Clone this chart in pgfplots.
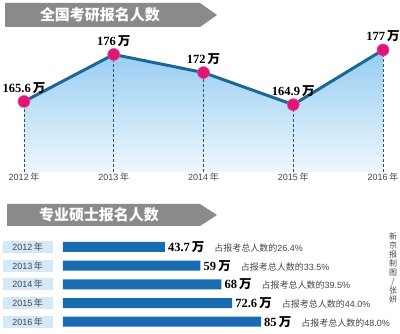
\documentclass[border=0pt]{standalone}
\usepackage{pgfplots}
\pgfplotsset{compat=1.18}
\usepackage{fontspec}
\setmainfont{Liberation Serif}
\newfontfamily\cjk{Noto Sans CJK SC}
\newfontfamily\lsans{Liberation Sans}
\definecolor{banner}{RGB}{138,138,138}
\definecolor{lineblue}{RGB}{29,102,150}
\definecolor{mk}{RGB}{225,20,120}
\definecolor{areatop}{RGB}{150,204,242}
\definecolor{areabot}{RGB}{238,247,253}
\definecolor{barblue}{RGB}{25,108,178}
\definecolor{boxblue}{RGB}{212,232,248}
\definecolor{dashc}{RGB}{40,80,120}
\definecolor{txtgray}{RGB}{70,70,70}
\newcommand\toplab[1]{{\fontsize{12.5}{12.5}\selectfont\bfseries #1\,{\cjk\bfseries 万}}}
\newcommand\yr[1]{{\lsans #1\,{\cjk 年}}}
\newcommand\bv[1]{{\fontsize{12.5}{12.5}\selectfont\bfseries #1\,{\cjk\bfseries 万}}}
\newcommand\pc[1]{{\fontsize{9}{9}\selectfont\color{txtgray}{\cjk 占报考总人数的}{\lsans #1\%}}}
\begin{document}
\begin{tikzpicture}[x=1pt,y=1pt]
\useasboundingbox (0,0) rectangle (400,-334);
% banners
\fill[banner] (5,-3) -- (200,-3) -- (217,-15) -- (200,-27) -- (5,-27) -- cycle;
\node[white, font=\cjk\bfseries\fontsize{15}{15}\selectfont] at (100,-15) {全国考研报名人数};
\fill[banner] (7,-204) -- (200,-204) -- (217,-215) -- (200,-226) -- (7,-226) -- cycle;
\node[white, font=\cjk\bfseries\fontsize{15}{15}\selectfont] at (99,-215) {专业硕士报名人数};
% credit
\node[text=txtgray, font=\cjk\fontsize{8}{9}\selectfont, align=center, inner sep=0pt] at (393,-268) {新\\京\\报\\制\\图\\/\\张\\妍};

\begin{axis}[at={(24pt,-172pt)}, anchor=south west, scale only axis,
  width=359pt, height=158.2pt, xmin=2012, xmax=2016, ymin=150, ymax=185,
  clip=false, axis line style={draw=none}, tick style={draw=none},
  ytick=\empty, xtick={2012,2013,2014,2015,2016},
  xticklabels={\yr{2012},\yr{2013},\yr{2014},\yr{2015},\yr{2016}},
  xticklabel style={font=\fontsize{9}{9}\selectfont, text=txtgray, inner sep=0pt, anchor=north, yshift=-1pt}]
\addplot[draw=none, top color=areatop, bottom color=areabot, forget plot]
  coordinates {(2012,150)(2012,165.6)(2013,176)(2014,172)(2015,164.9)(2016,177)(2016,150)};
\addplot[dashc, line width=0.8pt, dash pattern=on 3pt off 2pt, unbounded coords=jump, forget plot]
  coordinates {(2012,150)(2012,165.6)(2012,nan)(2013,150)(2013,176)(2013,nan)(2014,150)(2014,172)(2014,nan)(2015,150)(2015,164.9)(2015,nan)(2016,150)(2016,177)};
\addplot[lineblue, line width=3pt, mark=*, mark size=6pt,
  mark options={fill=mk, draw=mk!75!white, line width=0.6pt},
  point meta=explicit symbolic,
  nodes near coords={\toplab{\pgfplotspointmeta}},
  nodes near coords style={anchor=south, inner sep=0pt, yshift=8pt, text=black}]
  coordinates {(2012,165.6)[165.6] (2013,176)[176] (2014,172)[172] (2015,164.9)[164.9] (2016,177)[177]};
\end{axis}

\begin{axis}[at={(63pt,-237.6pt)}, anchor=north west, scale only axis,
  width=233pt, height=93.5pt, xmin=0, xmax=100, ymin=-0.5, ymax=4.5, y dir=reverse,
  clip=false, axis line style={draw=none}, tick style={draw=none},
  xtick=\empty, ytick={0,1,2,3,4},
  yticklabels={\yr{2012},\yr{2013},\yr{2014},\yr{2015},\yr{2016}},
  yticklabel style={fill=boxblue, minimum width=50pt, minimum height=12pt, inner sep=0pt,
    xshift=-6pt, font=\fontsize{9}{9}\selectfont, text=txtgray},
  xbar, bar width=10pt]
\addplot[fill=barblue, draw=none, point meta=explicit symbolic,
  nodes near coords={\pgfplotspointmeta},
  nodes near coords style={anchor=west, inner sep=0pt, xshift=3pt, text=black}]
  coordinates {(43.7,0)[{\bv{43.7}\hspace{10pt}\pc{26.4}}]
               (59,1)[{\bv{59}\hspace{10pt}\pc{33.5}}]
               (68,2)[{\bv{68}\hspace{10pt}\pc{39.5}}]
               (72.6,3)[{\bv{72.6}\hspace{10pt}\pc{44.0}}]
               (85,4)[{\bv{85}\hspace{10pt}\pc{48.0}}]};
\end{axis}
\end{tikzpicture}
\end{document}
